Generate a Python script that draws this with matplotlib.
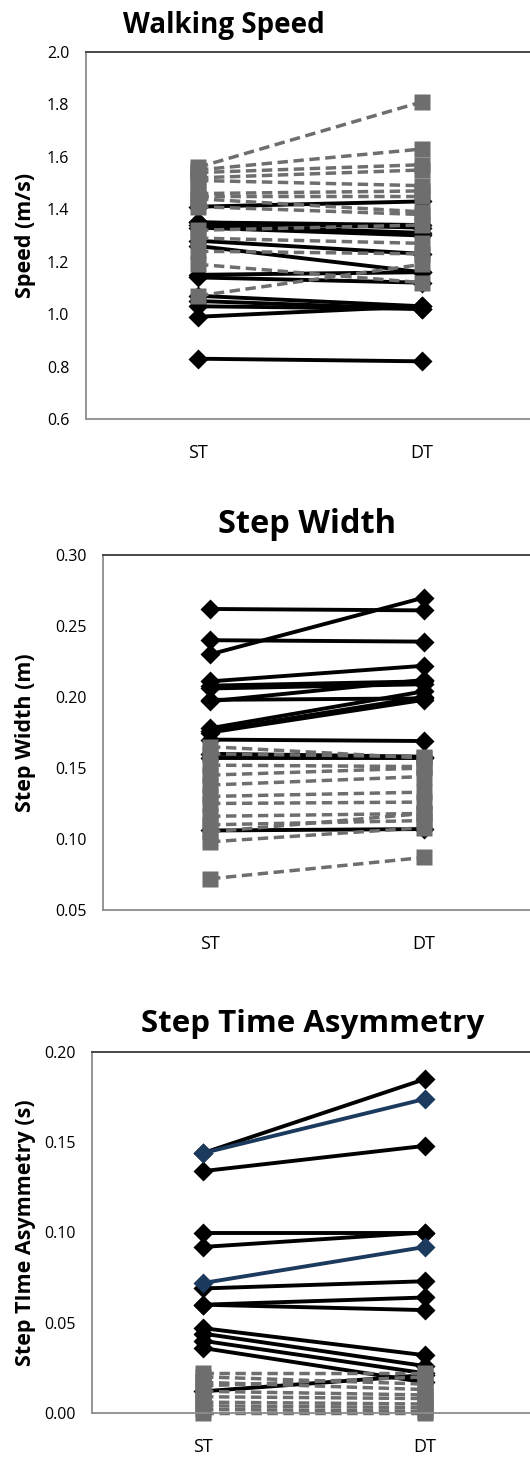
import matplotlib
matplotlib.use("Agg")
import matplotlib.pyplot as plt

plt.rcParams["font.family"] = ["Open Sans", "DejaVu Sans"]

conditions = ["ST", "DT"]

# walking speed (m/s): black solid = diamonds, gray dashed = squares
speed_solid_st = [1.41, 1.35, 1.35, 1.34, 1.33, 1.28, 1.26, 1.15, 1.14, 1.07, 1.05, 1.03, 0.99, 0.83]
speed_solid_dt = [1.43, 1.34, 1.33, 1.31, 1.30, 1.23, 1.16, 1.16, 1.12, 1.03, 1.02, 1.02, 1.03, 0.82]
speed_dash_st = [1.56, 1.55, 1.54, 1.52, 1.51, 1.46, 1.45, 1.44, 1.41, 1.32, 1.29, 1.24, 1.19, 1.07]
speed_dash_dt = [1.81, 1.63, 1.57, 1.55, 1.49, 1.47, 1.45, 1.39, 1.38, 1.34, 1.27, 1.23, 1.12, 1.19]

# step width (m)
width_solid_st = [0.262, 0.240, 0.230, 0.211, 0.208, 0.206, 0.198, 0.197, 0.178, 0.176, 0.175, 0.170, 0.160, 0.157, 0.106]
width_solid_dt = [0.261, 0.239, 0.270, 0.222, 0.211, 0.209, 0.199, 0.212, 0.204, 0.200, 0.198, 0.169, 0.158, 0.157, 0.107]
width_dash_st = [0.165, 0.160, 0.152, 0.145, 0.138, 0.130, 0.125, 0.116, 0.110, 0.105, 0.098, 0.072]
width_dash_dt = [0.157, 0.158, 0.151, 0.150, 0.144, 0.133, 0.126, 0.118, 0.113, 0.118, 0.108, 0.087]

# step time asymmetry (s)
asym_solid_st = [0.144, 0.134, 0.100, 0.092, 0.069, 0.060, 0.060, 0.047, 0.044, 0.040, 0.036, 0.012]
asym_solid_dt = [0.185, 0.148, 0.100, 0.100, 0.073, 0.064, 0.057, 0.032, 0.026, 0.022, 0.017, 0.021]
asym_blue_st = [0.144, 0.072]
asym_blue_dt = [0.174, 0.092]
asym_dash_st = [0.022, 0.020, 0.017, 0.015, 0.012, 0.009, 0.006, 0.004, 0.002, 0.000]
asym_dash_dt = [0.022, 0.016, 0.013, 0.020, 0.010, 0.008, 0.005, 0.003, 0.001, 0.000]

W, H = 530, 1461
GRAY = "#6e6e6e"
BLUE = "#1b3a5e"


def box(left, top, right, bottom):
    return [left / W, 1 - bottom / H, (right - left) / W, (bottom - top) / H]


def pairs(ax, st, dt, color, dashed=False):
    for a, b in zip(st, dt):
        if dashed:
            ax.plot([0, 1], [a, b], color=color, lw=2.5, ls=(0, (3, 1.6)),
                    marker="s", ms=12, mec="none", clip_on=False)
        else:
            ax.plot([0, 1], [a, b], color=color, lw=2.8, marker="D",
                    ms=10, mec="none", clip_on=False)


def panel(ax, title, tx, ty, tsize, ylabel, ticks, fmt):
    ax.set_xlim(-0.5, 1.5)
    ax.set_ylim(ticks[0], ticks[-1])
    ax.set_yticks(ticks)
    ax.set_yticklabels([fmt % t for t in ticks])
    ax.set_xticks([0, 1])
    ax.set_xticklabels(conditions)
    ax.tick_params(length=0, labelsize=11.5, colors="black")
    ax.tick_params(axis="y", pad=12)
    ax.tick_params(axis="x", pad=18, labelsize=13)
    ax.spines["left"].set_color("#8c8c8c")
    ax.spines["bottom"].set_color("#8c8c8c")
    ax.spines["top"].set_color("#3a3a3a")
    ax.spines["right"].set_visible(False)
    for s in ax.spines.values():
        s.set_linewidth(1.3)
    pos = ax.get_position()
    ax.set_ylabel(ylabel, fontsize=15.5, fontweight="bold")
    ax.yaxis.set_label_coords((36 / W - pos.x0) / pos.width, 0.5)
    fig.text(tx / W, 1 - ty / H, title, fontsize=tsize, fontweight="bold",
             ha="center", va="center")


fig = plt.figure(figsize=(W / 100, H / 100), dpi=100)

ax1 = fig.add_axes(box(86, 52, 534, 419))
pairs(ax1, speed_solid_st, speed_solid_dt, "black")
pairs(ax1, speed_dash_st, speed_dash_dt, GRAY, dashed=True)
panel(ax1, "Walking Speed", 224, 26, 20, "Speed (m/s)",
      [0.6, 0.8, 1.0, 1.2, 1.4, 1.6, 1.8, 2.0], "%.1f")

ax2 = fig.add_axes(box(103, 555, 531, 910))
pairs(ax2, width_solid_st, width_solid_dt, "black")
pairs(ax2, width_dash_st, width_dash_dt, GRAY, dashed=True)
panel(ax2, "Step Width", 307, 524, 23.5, "Step Width (m)",
      [0.05, 0.10, 0.15, 0.20, 0.25, 0.30], "%.2f")

ax3 = fig.add_axes(box(92, 1052, 536, 1413))
pairs(ax3, asym_solid_st, asym_solid_dt, "black")
pairs(ax3, asym_blue_st, asym_blue_dt, BLUE)
pairs(ax3, asym_dash_st, asym_dash_dt, GRAY, dashed=True)
panel(ax3, "Step Time Asymmetry", 313, 1024, 22.5, "Step TIme Asymmetry (s)",
      [0.00, 0.05, 0.10, 0.15, 0.20], "%.2f")

fig.savefig("out.png", dpi=100)
